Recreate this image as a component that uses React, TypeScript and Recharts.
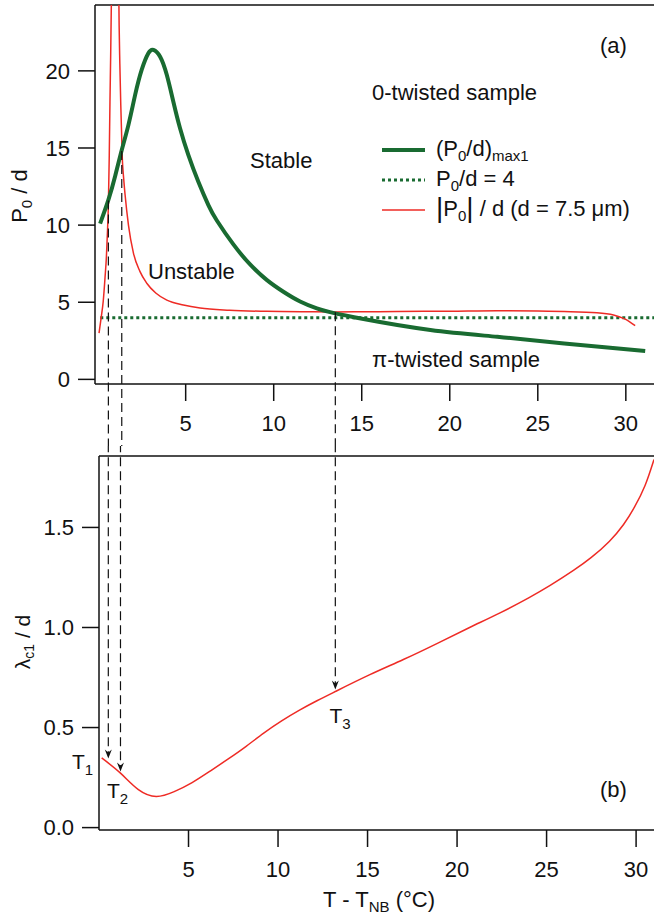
import React from 'react';
import { LineChart, Line, XAxis, YAxis, ReferenceLine, ReferenceDot, Legend } from 'recharts';

const RED = '#ee2b25';
const GREEN = '#196b31';
const INK = '#111';
const FONT = '"Liberation Sans", Arial, Helvetica, sans-serif';

// ---------- Panel (a): P0/d vs T - T_NB ----------
const maxT = [0.14, 0.61, 1.0, 1.37, 1.75, 2.13, 2.5, 2.88, 3.17, 3.55, 3.93, 4.3, 4.68, 5.15, 5.72, 6.29, 6.77, 7.71, 8.66, 9.6, 10.55, 11.5, 12.45, 13.2, 15.1, 18.9, 22.7, 26.5, 31.1];
const maxP = [10.1, 11.63, 13.2, 14.87, 16.5, 18.44, 20.06, 21.14, 21.36, 20.92, 19.73, 18.0, 16.28, 14.55, 12.81, 11.3, 10.3, 8.75, 7.45, 6.45, 5.68, 5.05, 4.6, 4.36, 3.91, 3.2, 2.76, 2.33, 1.84];

const p4T = [0.15, 31.6];
const p4V = [4, 4];

const redLeftT = [0.08, 0.2, 0.32, 0.42, 0.5, 0.55, 0.61, 0.66, 0.7, 0.74, 0.78, 0.82, 0.86];
const redLeftP = [3.0, 4.0, 5.1, 6.6, 8.0, 9.36, 11.3, 14.5, 18.0, 21.0, 24.5, 28.5, 33];

const redRightT = [1.14, 1.18, 1.22, 1.26, 1.31, 1.4, 1.48, 1.56, 1.75, 2.03, 2.4, 2.79, 3.3, 3.93, 4.87, 5.82, 7.5, 9.6, 12.0, 13.5, 15.0, 17.0, 20.0, 22.7, 25.0, 26.5, 28.36, 29.3, 29.87, 30.2, 30.53];
const redRightP = [32, 27.5, 23.0, 20.5, 18.0, 14.33, 13.0, 11.95, 10.0, 8.2, 7.0, 6.23, 5.6, 5.14, 4.82, 4.62, 4.48, 4.41, 4.38, 4.37, 4.38, 4.4, 4.42, 4.45, 4.43, 4.4, 4.32, 4.17, 3.95, 3.75, 3.48];

const topXTicks = [5, 10, 15, 20, 25, 30];
const topYTicks = [0, 5, 10, 15, 20];
const topXDomain = [-0.15, 31.6];
const topYDomain = [-0.3, 24.27];

// transition temperatures T1, T2, T3 as read in each panel
const topMarkT = [0.61, 1.37, 13.5];
const topMarkP = [11.6, 14.8, 4.35];

// ---------- Panel (b): lambda_c1/d vs T - T_NB ----------
const lamT = [0.15, 1.2, 2.2, 3.2, 4.2, 5.2, 6.2, 7.2, 8.2, 9.2, 10.2, 11.2, 12.2, 13.2, 15.1, 17.0, 18.9, 20.7, 22.4, 24.0, 25.2, 26.5, 27.5, 28.5, 29.3, 29.9, 30.5, 31.0];
const lamV = [0.348, 0.272, 0.19, 0.156, 0.18, 0.225, 0.282, 0.342, 0.405, 0.472, 0.533, 0.587, 0.635, 0.68, 0.763, 0.84, 0.921, 1.0, 1.073, 1.148, 1.21, 1.285, 1.35, 1.43, 1.515, 1.6, 1.71, 1.84];

const botXTicks = [5, 10, 15, 20, 25, 30];
const botYTicks = [0, 0.5, 1.0, 1.5];
const botXDomain = [0, 31.0];
const botYDomain = [-0.012, 1.857];

const botMarkT = [0.52, 1.2, 13.2];
const botMarkL = [0.345, 0.28, 0.69];

const mk = (ts: number[], vs: number[]) => ts.map((t, i) => ({ t, v: vs[i] }));

const axisStyle = { stroke: INK, strokeWidth: 1.5 };
const tickStyle = { fill: INK, fontSize: 22, fontFamily: FONT };

const Sub = ({ children }: { children: React.ReactNode }) => (
  <span style={{ fontSize: 15, position: 'relative', top: 5 }}>{children}</span>
);

const Bar = () => <span style={{ fontSize: 28, lineHeight: '22px', position: 'relative', top: 1 }}>|</span>;

const legendRows = [
  { color: GREEN, width: 4, dash: undefined as string | undefined, label: <>(P<Sub>0</Sub>/d)<Sub>max1</Sub></> },
  { color: GREEN, width: 3, dash: '3 3', label: <>P<Sub>0</Sub>/d = 4</> },
  { color: RED, width: 1.5, dash: undefined as string | undefined, label: <><Bar />P<Sub>0</Sub><Bar /> / d (d = 7.5 μm)</> },
];

const renderLegend = () => (
  <div style={{ fontFamily: FONT, fontSize: 22, color: INK }}>
    {legendRows.map((r, i) => (
      <div key={i} style={{ display: 'flex', alignItems: 'center', height: 30, whiteSpace: 'nowrap' }}>
        <svg width={44} height={10} style={{ marginRight: 10, flex: 'none' }}>
          <line x1={0} y1={5} x2={43} y2={5} stroke={r.color} strokeWidth={r.width} strokeDasharray={r.dash} />
        </svg>
        <span style={{ lineHeight: '30px' }}>{r.label}</span>
      </div>
    ))}
  </div>
);

const arrowShape = (props: any) => {
  const { cx, cy } = props;
  return (
    <path
      d={`M${cx - 3.5},${cy - 9} L${cx},${cy} L${cx + 3.5},${cy - 9} L${cx},${cy - 6} Z`}
      fill={INK}
      stroke="none"
    />
  );
};

const dashProps = { stroke: INK, strokeWidth: 1.2, strokeDasharray: '9 5' };

const TopTexts = () => (
  <g fontFamily={FONT} fill={INK} fontSize={22}>
    <text x={600} y={53}>(a)</text>
    <text x={372} y={100}>0-twisted sample</text>
    <text x={250} y={168}>Stable</text>
    <text x={148} y={279}>Unstable</text>
    <text x={372} y={367}>π-twisted sample</text>
    <text x={27} y={196} transform="rotate(-90 27 196)" textAnchor="middle">
      P<tspan fontSize={15} dy={5}>0</tspan><tspan dy={-5}> / d</tspan>
    </text>
  </g>
);

const BottomTexts = () => (
  <g fontFamily={FONT} fill={INK}>
    <text x={72} y={323} fontSize={21}>T<tspan fontSize={15} dy={6}>1</tspan></text>
    <text x={107} y={352} fontSize={21}>T<tspan fontSize={15} dy={6}>2</tspan></text>
    <text x={329.5} y={277} fontSize={21}>T<tspan fontSize={15} dy={6}>3</tspan></text>
    <text x={600} y={351} fontSize={22}>(b)</text>
    <text x={30} y={196} transform="rotate(-90 30 196)" textAnchor="middle" fontSize={21}>
      λ<tspan fontSize={14} dy={4}>c1</tspan><tspan dy={-4}> / d</tspan>
    </text>
    <text x={379} y={461} textAnchor="middle" fontSize={22}>
      T - T<tspan fontSize={15} dy={5}>NB</tspan><tspan dy={-5}> (°C)</tspan>
    </text>
  </g>
);

export default function App() {
  return (
    <div style={{ position: 'absolute', left: 0, top: 0, width: 654, height: 918, background: '#fff', fontFamily: FONT }}>
      <div style={{ position: 'absolute', left: 0, top: 0 }}>
        <LineChart width={654} height={446} margin={{ top: 5, right: 0, bottom: 0, left: 0 }}>
          <XAxis
            dataKey="t"
            type="number"
            domain={topXDomain}
            ticks={topXTicks}
            interval={0}
            allowDataOverflow
            height={62}
            tickSize={17}
            tickMargin={14}
            axisLine={axisStyle}
            tickLine={axisStyle}
            tick={tickStyle}
          />
          <YAxis
            type="number"
            domain={topYDomain}
            ticks={topYTicks}
            interval={0}
            allowDataOverflow
            width={95}
            tickSize={17}
            tickMargin={8}
            axisLine={axisStyle}
            tickLine={axisStyle}
            tick={tickStyle}
          />
          <ReferenceLine y={topYDomain[1]} stroke={INK} strokeWidth={1.5} ifOverflow="visible" />
          <Line data={mk(p4T, p4V)} dataKey="v" type="linear" stroke={GREEN} strokeWidth={3} strokeDasharray="3 3" dot={false} activeDot={false} isAnimationActive={false} legendType="none" />
          <Line data={mk(redLeftT, redLeftP)} dataKey="v" type="monotone" stroke={RED} strokeWidth={1.5} dot={false} activeDot={false} isAnimationActive={false} legendType="none" />
          <Line data={mk(redRightT, redRightP)} dataKey="v" type="monotone" stroke={RED} strokeWidth={1.5} dot={false} activeDot={false} isAnimationActive={false} legendType="none" />
          <Line data={mk(maxT, maxP)} dataKey="v" type="natural" stroke={GREEN} strokeWidth={4} dot={false} activeDot={false} isAnimationActive={false} legendType="none" />
          {topMarkT.map((t, i) => (
            <ReferenceLine
              key={i}
              segment={[{ x: t, y: topMarkP[i] }, { x: t, y: -12 }]}
              ifOverflow="visible"
              {...dashProps}
            />
          ))}
          <Legend
            content={renderLegend}
            layout="vertical"
            align="center"
            verticalAlign="middle"
            wrapperStyle={{ position: 'absolute', left: 382, top: 135, width: 272, height: 90, margin: 0 }}
          />
          <TopTexts />
        </LineChart>
      </div>
      <div style={{ position: 'absolute', left: 0, top: 446 }}>
        <LineChart width={654} height={472} margin={{ top: 10, right: 0, bottom: 0, left: 0 }}>
          <XAxis
            dataKey="t"
            type="number"
            domain={botXDomain}
            ticks={botXTicks}
            interval={0}
            allowDataOverflow
            height={88}
            tickSize={17}
            tickMargin={14}
            axisLine={axisStyle}
            tickLine={axisStyle}
            tick={tickStyle}
          />
          <YAxis
            type="number"
            domain={botYDomain}
            ticks={botYTicks}
            interval={0}
            allowDataOverflow
            width={99}
            tickSize={17}
            tickMargin={8}
            axisLine={axisStyle}
            tickLine={axisStyle}
            tick={tickStyle}
            tickFormatter={(v: number) => v.toFixed(1)}
          />
          <ReferenceLine y={botYDomain[1]} stroke={INK} strokeWidth={1.5} ifOverflow="visible" />
          <Line data={mk(lamT, lamV)} dataKey="v" type="natural" stroke={RED} strokeWidth={1.5} dot={false} activeDot={false} isAnimationActive={false} legendType="none" />
          {botMarkT.map((t, i) => (
            <ReferenceLine
              key={`l${i}`}
              segment={[{ x: t, y: 2.2 }, { x: t, y: botMarkL[i] + 0.02 }]}
              ifOverflow="visible"
              {...dashProps}
            />
          ))}
          {botMarkT.map((t, i) => (
            <ReferenceDot key={`a${i}`} x={t} y={botMarkL[i]} r={4} ifOverflow="visible" shape={arrowShape} />
          ))}
          <BottomTexts />
        </LineChart>
      </div>
    </div>
  );
}
